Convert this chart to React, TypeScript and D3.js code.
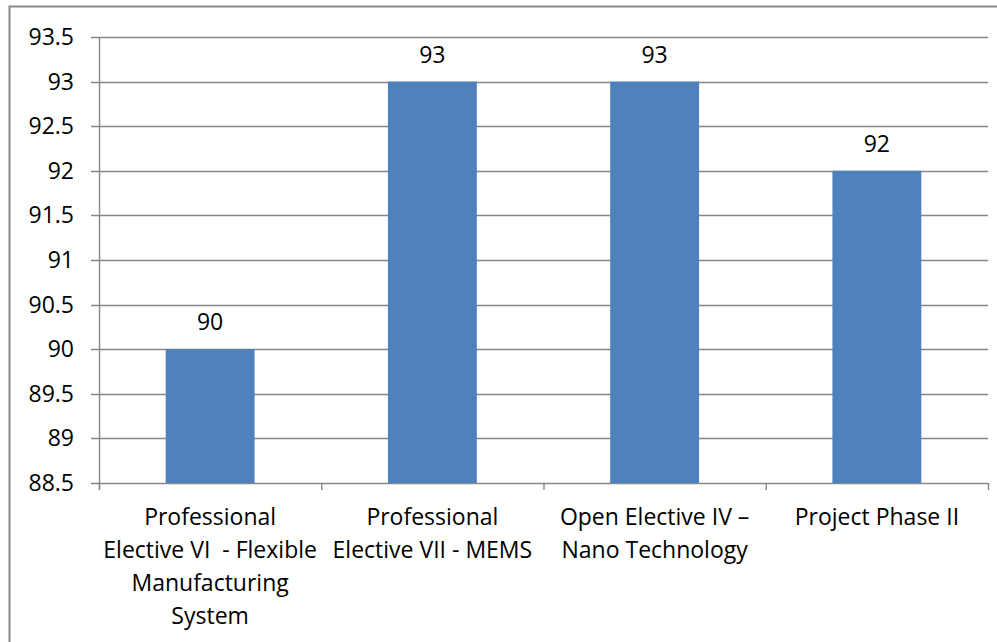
import React, { useEffect, useRef } from "react";
import * as d3 from "d3";

const categories = ["PE6", "PE7", "OE4", "PP2"];
const categoryLines = [
  ["Professional", "Elective VI  - Flexible", "Manufacturing", "System"],
  ["Professional", "Elective VII - MEMS"],
  ["Open Elective IV –", "Nano Technology"],
  ["Project Phase II"],
];
const values = [90, 93, 93, 92];
const yTicks = [88.5, 89, 89.5, 90, 90.5, 91, 91.5, 92, 92.5, 93, 93.5];

const W = 997;
const H = 642;
const FONT = "'Open Sans', sans-serif";
const FS = 23;

export default function App() {
  const ref = useRef<SVGSVGElement>(null);
  useEffect(() => {
    const svg = d3.select(ref.current);
    svg.selectAll("*").remove();
    const left = 99, right = 988, top = 37, bottom = 483;
    const x = d3.scaleBand().domain(categories).range([left, right]).paddingInner(0.6).paddingOuter(0.3);
    const xb = d3.scaleBand().domain(categories).range([left, right]);
    const y = d3.scaleLinear().domain([88.5, 93.5]).range([bottom, top]);

    svg.append("rect").attr("x", 0).attr("y", 0).attr("width", W).attr("height", H).attr("fill", "#fff");
    svg.append("rect").attr("x", 9.5).attr("y", 6.5).attr("width", W + 20).attr("height", H + 20)
      .attr("fill", "none").attr("stroke", "#878787").attr("stroke-width", 2);

    // gridlines
    svg.append("g").selectAll("line").data(yTicks).join("line")
      .attr("x1", left - 8).attr("x2", right)
      .attr("y1", (d) => Math.round(y(d)) + 0.5).attr("y2", (d) => Math.round(y(d)) + 0.5)
      .attr("stroke", "#878787").attr("stroke-width", 1.4);

    svg.append("g").selectAll("text").data(yTicks).join("text")
      .attr("x", 74).attr("y", (d) => y(d) + 8)
      .attr("text-anchor", "end").attr("font-family", FONT).attr("font-size", FS).attr("fill", "#000")
      .text((d) => String(d));

    // bars
    svg.append("g").selectAll("rect").data(values).join("rect")
      .attr("x", (_d, i) => x(categories[i])!).attr("width", x.bandwidth())
      .attr("y", (d) => y(d)).attr("height", (d) => bottom - y(d))
      .attr("fill", "#4F81BD");

    // value labels
    svg.append("g").selectAll("text").data(values).join("text")
      .attr("x", (_d, i) => x(categories[i])! + x.bandwidth() / 2).attr("y", (d) => y(d) - 19)
      .attr("text-anchor", "middle").attr("font-family", FONT).attr("font-size", FS).attr("fill", "#000")
      .text((d) => String(d));

    // axes lines
    svg.append("line").attr("x1", left + 0.5).attr("x2", left + 0.5).attr("y1", top).attr("y2", bottom + 7)
      .attr("stroke", "#878787").attr("stroke-width", 1.4);
    const tickXs = [...categories.map((c) => xb(c)!), right];
    svg.append("g").selectAll("line").data(tickXs).join("line")
      .attr("x1", (d) => d + 0.5).attr("x2", (d) => d + 0.5).attr("y1", bottom).attr("y2", bottom + 7)
      .attr("stroke", "#878787").attr("stroke-width", 1.4);

    // category labels
    const g = svg.append("g");
    categoryLines.forEach((lines, i) => {
      const cx = xb(categories[i])! + xb.bandwidth() / 2;
      lines.forEach((ln, j) => {
        g.append("text").attr("x", cx).attr("y", 525 + j * 33)
          .attr("text-anchor", "middle").attr("font-family", FONT).attr("font-size", FS)
          .attr("fill", "#000").style("white-space", "pre").text(ln);
      });
    });
  }, []);
  return (
    <svg ref={ref} width={W} height={H} style={{ position: "absolute", left: 0, top: 0 }} />
  );
}
